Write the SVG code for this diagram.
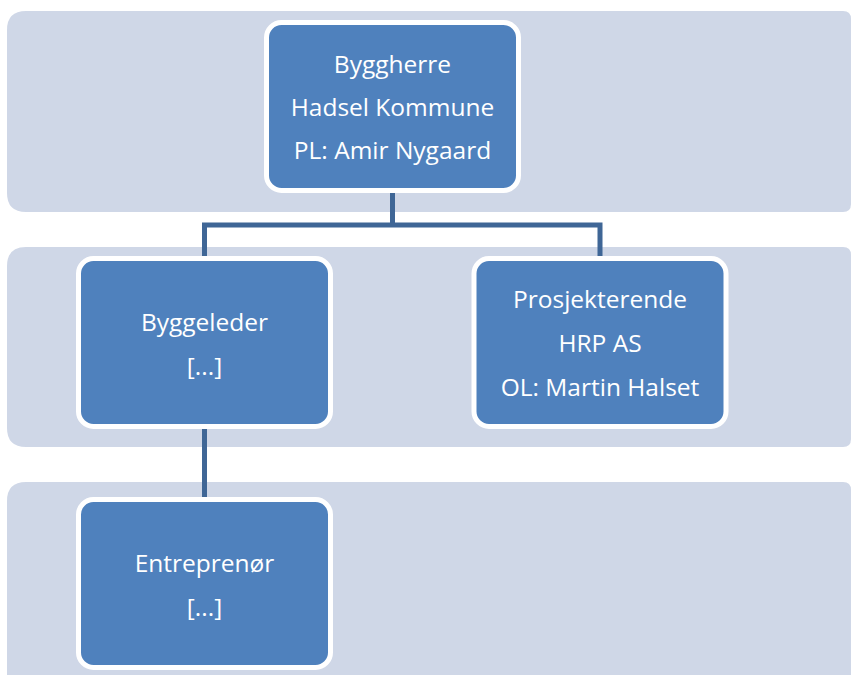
<svg xmlns="http://www.w3.org/2000/svg" width="851" height="675" viewBox="0 0 851 675">
<style>
.band{fill:#CFD7E7;}
.node{fill:#4F81BD;stroke:#FFFFFF;stroke-width:5;}
.conn{fill:none;stroke:#3F6696;stroke-width:5;stroke-linejoin:miter;}
.lbl{font-family:"Open Sans","Noto Sans",sans-serif;font-size:24.5px;fill:#FFFFFF;text-anchor:middle;}
</style>
<rect width="851" height="675" fill="#FFFFFF"/>
<g id="bands">
<path class="band" d="M26 11 H843 Q851 11 851 19 V204 Q851 212 843 212 H26 Q7 212 7 193 V30 Q7 11 26 11 Z"/>
<path class="band" d="M26 247 H843 Q851 247 851 255 V439 Q851 447 843 447 H26 Q7 447 7 428 V266 Q7 247 26 247 Z"/>
<path class="band" d="M26 482 H843 Q851 482 851 490 V675 H7 V501 Q7 482 26 482 Z"/>
</g>
<g id="connectors">
<path class="conn" d="M392.5 193 V225"/>
<path class="conn" d="M204.5 256 V225 H600 V256"/>
<path class="conn" d="M204.5 429 V497"/>
</g>
<g id="node-byggherre">
<rect class="node" x="266.5" y="22.5" width="252" height="168" rx="15"/>
<text class="lbl" x="392.5" y="73">Byggherre</text>
<text class="lbl" x="392.5" y="116">Hadsel Kommune</text>
<text class="lbl" x="392.5" y="159">PL: Amir Nygaard</text>
</g>
<g id="node-byggeleder">
<rect class="node" x="78.5" y="258.5" width="252" height="168" rx="15"/>
<text class="lbl" x="204.5" y="331">Byggeleder</text>
<text class="lbl" x="204.5" y="375">[...]</text>
</g>
<g id="node-prosjekterende">
<rect class="node" x="474" y="258.5" width="252" height="168" rx="15"/>
<text class="lbl" x="600" y="308">Prosjekterende</text>
<text class="lbl" x="600" y="351.5">HRP AS</text>
<text class="lbl" x="600" y="395.5">OL: Martin Halset</text>
</g>
<g id="node-entreprenor">
<rect class="node" x="78.5" y="499.5" width="252" height="168" rx="15"/>
<text class="lbl" x="204.5" y="572">Entreprenør</text>
<text class="lbl" x="204.5" y="616">[...]</text>
</g>
</svg>
